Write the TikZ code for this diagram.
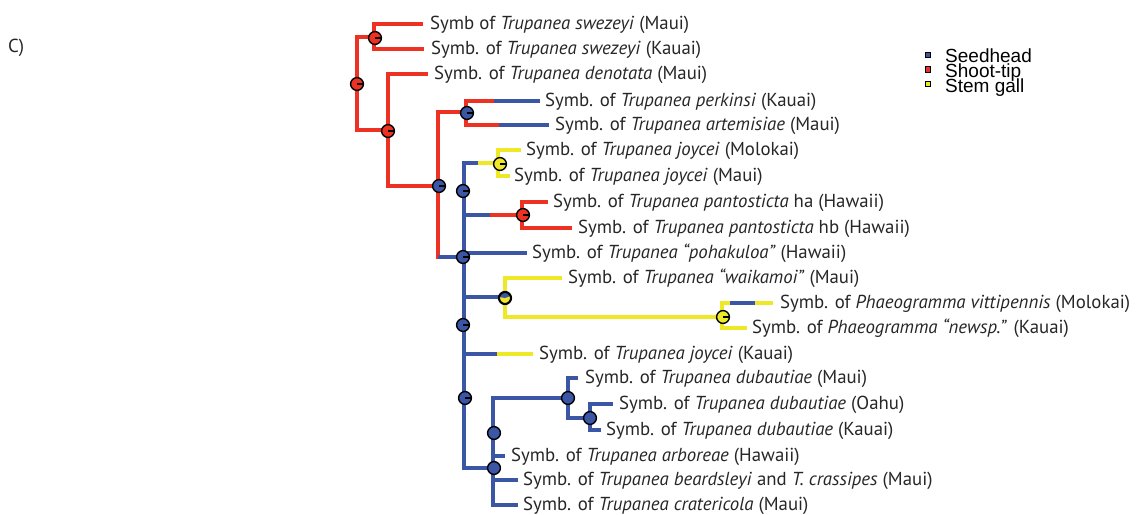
\documentclass[tikz,border=0pt]{standalone}
\usepackage{fontspec}
\setmainfont{PT Sans}
\newfontfamily\legfont{Liberation Sans}
\definecolor{tred}{RGB}{237,50,36}
\definecolor{tblue}{RGB}{59,86,165}
\definecolor{tyellow}{RGB}{238,232,38}
\begin{document}
\begin{tikzpicture}[x=1pt,y=-1pt,
  br/.style={line width=4.6pt},
  vbr/.style={line width=4.6pt, line cap=rect},
  pie/.style={circle, draw=black, line width=1.4pt, minimum size=12.8pt, inner sep=0pt, outer sep=0pt},
  tick/.style={draw=black, line width=1.2pt},
  lab/.style={anchor=base west, inner sep=0pt, font=\fontsize{18.8}{20}\selectfont, text=black!85},
  leg/.style={anchor=base west, inner sep=0pt, font=\legfont\fontsize{19}{20}\selectfont},
  sq/.style={draw=black, line width=1pt, minimum size=5.5pt, inner sep=0pt}]
\useasboundingbox (0,0) rectangle (1137,514);
\node[lab] (lbl) at (8,52.5) {C)};
% ---- red upper part
\draw[vbr,tred] (357,37) -- (357,130);
\draw[br,tred] (357,37) -- (374,37);
\draw[vbr,tred] (374,24) -- (374,49);
\draw[br,tred] (374,24) -- (423,24);
\draw[br,tred] (374,49) -- (424,49);
\draw[br,tred] (357,130) -- (388,130);
\draw[vbr,tred] (388,74) -- (388,186);
\draw[br,tred] (388,74) -- (428,74);
\draw[br,tred] (388,186) -- (438,186);
\draw[vbr,tred] (438,112) -- (438,257);
\draw[br,tred] (438,112) -- (466,112);
\draw[vbr,tred] (466,101) -- (466,125);
\draw[br,tred] (466,101) -- (494,101);
\draw[br,tblue] (494,101) -- (540,101);
\draw[br,tred] (466,125) -- (499,125);
\draw[br,tblue] (499,125) -- (549,125);
% ---- main blue spine
\draw[br,tblue] (438,257) -- (464,257);
\draw[vbr,tblue] (464,163) -- (464,468);
\draw[br,tblue] (464,163) -- (478,163);
\draw[br,tyellow] (478,163) -- (498,163);
\draw[vbr,tyellow] (498,150) -- (498,176);
\draw[br,tyellow] (498,150) -- (521,150);
\draw[br,tyellow] (498,176) -- (510,176);
\draw[br,tblue] (464,215) -- (490,215);
\draw[br,tred] (490,215) -- (522,215);
\draw[vbr,tred] (522,202) -- (522,228);
\draw[br,tred] (522,202) -- (548,202);
\draw[br,tred] (522,228) -- (572,228);
\draw[br,tblue] (464,253) -- (527,253);
\draw[br,tblue] (464,297) -- (505,297);
\draw[vbr,tyellow] (505,278) -- (505,317);
\draw[br,tyellow] (505,278) -- (562,278);
\draw[br,tyellow] (505,317) -- (722,317);
\draw[vbr,tyellow] (722,303) -- (722,328);
\draw[br,tyellow] (722,303) -- (730,303);
\draw[br,tblue] (730,303) -- (755,303);
\draw[br,tyellow] (755,303) -- (773,303);
\draw[br,tyellow] (722,328) -- (747,328);
\draw[br,tblue] (464,354) -- (497,354);
\draw[br,tyellow] (497,354) -- (533,354);
\draw[br,tblue] (464,468) -- (493,468);
\draw[vbr,tblue] (493,398) -- (493,505);
\draw[br,tblue] (493,398) -- (568,398);
\draw[vbr,tblue] (568,378) -- (568,418);
\draw[br,tblue] (568,378) -- (578,378);
\draw[br,tblue] (568,418) -- (590,418);
\draw[vbr,tblue] (590,404) -- (590,430);
\draw[br,tblue] (590,404) -- (613,404);
\draw[br,tblue] (590,430) -- (601,430);
\draw[br,tblue] (493,456) -- (505,456);
\draw[br,tblue] (493,480) -- (518,480);
\draw[br,tblue] (493,505) -- (518,505);
% ---- pie nodes with tick
\foreach \n/\x/\y/\c in {nA/375/38/tred, nR/357/84/tred, nB/388/131/tred,
  nC/439/186/tblue, nD/467/113/tblue, nF/500/164/tyellow, nE1/463/191/tblue,
  nG/523/215/tred, nE2/463/257/tblue, nE3/463/325/tblue, nI/723/317/tyellow,
  nE4/465/398/tblue}{
  \node[pie, fill=\c] (\n) at (\x,\y) {};
  \draw[tick] (\n.center) -- (\n.east);
}
\foreach \n/\x/\y in {nK/568/398, nL/590/418, nJ1/494/433, nJ2/494/468}{
  \node[pie, fill=tblue] (\n) at (\x,\y) {};
}
\node[pie, fill=tyellow] (nH) at (505,298) {};
\fill[tblue] (nH.center) -- ([shift={(-20:5.7)}]nH.center) arc[start angle=-20, end angle=-170, radius=5.7] -- cycle;
\draw[black, line width=1.4pt] (nH.center) circle[radius=5.7];
% ---- tip labels
\node[lab] (t1) at (430,29.5) {Symb of \textit{Trupanea swezeyi} (Maui)};
\node[lab] (t2) at (431,54.5) {Symb. of \textit{Trupanea swezeyi} (Kauai)};
\node[lab] (t3) at (434,79.5) {Symb. of \textit{Trupanea denotata} (Maui)};
\node[lab] (t4) at (545,106.5) {Symb. of \textit{Trupanea perkinsi} (Kauai)};
\node[lab] (t5) at (555,130.5) {Symb. of \textit{Trupanea artemisiae} (Maui)};
\node[lab] (t6) at (526,155.5) {Symb. of \textit{Trupanea joycei} (Molokai)};
\node[lab] (t7) at (514,181.5) {Symb. of \textit{Trupanea joycei} (Maui)};
\node[lab] (t8) at (553,207.5) {Symb. of \textit{Trupanea pantosticta} ha (Hawaii)};
\node[lab] (t9) at (578,233.5) {Symb. of \textit{Trupanea pantosticta} hb (Hawaii)};
\node[lab] (t10) at (532,258.5) {Symb. of \textit{Trupanea “pohakuloa”} (Hawaii)};
\node[lab] (t11) at (568,283.5) {Symb. of \textit{Trupanea “waikamoi”} (Maui)};
\node[lab] (t12) at (780,308.5) {Symb. of \textit{Phaeogramma vittipennis} (Molokai)};
\node[lab] (t13) at (752,333.5) {Symb. of \textit{Phaeogramma “newsp.”} (Kauai)};
\node[lab] (t14) at (539,359.5) {Symb. of \textit{Trupanea joycei} (Kauai)};
\node[lab] (t15) at (585,383.5) {Symb. of \textit{Trupanea dubautiae} (Maui)};
\node[lab] (t16) at (619,409.5) {Symb. of \textit{Trupanea dubautiae} (Oahu)};
\node[lab] (t17) at (606,435.5) {Symb. of \textit{Trupanea dubautiae} (Kauai)};
\node[lab] (t18) at (511,461.5) {Symb. of \textit{Trupanea arboreae} (Hawaii)};
\node[lab] (t19) at (523,485.5) {Symb. of \textit{Trupanea beardsleyi} and \textit{T. crassipes} (Maui)};
\node[lab] (t20) at (523,510.5) {Symb. of \textit{Trupanea cratericola} (Maui)};
% ---- legend
\node[sq, fill=tblue] (s1) at (928,55) {};
\node[sq, fill=tred] (s2) at (928,69.5) {};
\node[sq, fill=tyellow] (s3) at (928,84) {};
\node[leg] (l1) at (945,62) {Seedhead};
\node[leg] (l2) at (945,77.5) {Shoot-tip};
\node[leg] (l3) at (945,92.5) {Stem gall};
\end{tikzpicture}
\end{document}
